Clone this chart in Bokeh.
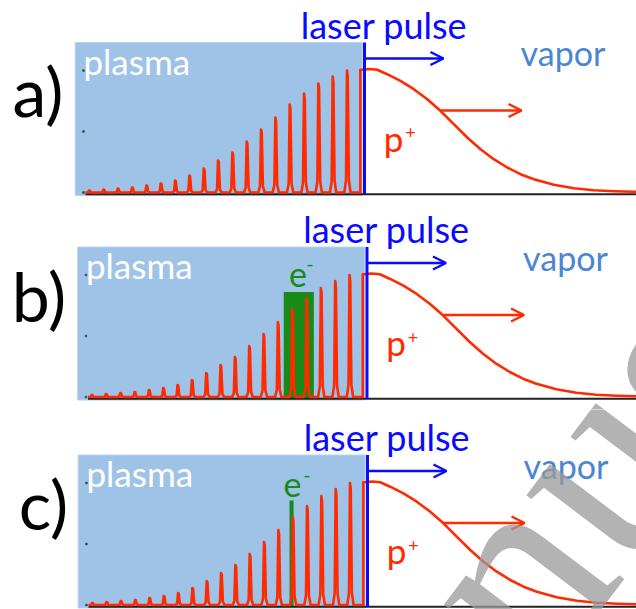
import numpy as np
from bokeh.plotting import figure
from bokeh.models import Range1d, Arrow, OpenHead, Label
from bokeh.layouts import column
from bokeh.embed import file_html
from bokeh.resources import INLINE
from bokeh.core.properties import value

# ---------------- data ----------------
panel_labels = ["a)", "b)", "c)"]
# ion-density spikes inside the plasma (position in spike units, amplitude a.u.)
peak_pos = [1, 2, 3, 4, 5, 6, 7, 8, 9, 10, 11, 12, 13, 14, 15, 16, 17, 18, 19]
peak_amp = [2, 3, 4, 5, 7, 9, 12, 17, 24, 32, 40, 51, 63, 75, 88, 99, 109, 116, 122]
# expanding proton front in the vapor
front_x = [19.98, 20.5, 21.08, 21.77, 22.70, 23.63, 24.57, 25.49, 26.42, 27.36, 28.29,
           29.21, 30.15, 31.08, 32.01, 33.40, 34.80, 36.19, 37.59, 38.98, 40.0]
front_amp = [122.7, 123.5, 122.7, 118.3, 111.7, 103.3, 93.3, 81.7, 68.3, 55.0, 43.3,
             33.3, 25.0, 18.3, 13.3, 7.7, 4.3, 2.3, 1.3, 0.7, 0.4]
edge_x = 19.9
plasma_left, plasma_right, plasma_bottom, plasma_top = 0.0, 20.03, -3, 150
laser_x = 20.19
laser_arrow = (20.19, 25.7, 134)     # x_start, x_end, amplitude
ion_arrow = (25.5, 31.15, 82)
axis_tick_amp = [0, 61, 122]
# electron bunch: panel b wide box, panel c thin line
bunch_b = (14.38, 16.48, 105)
bunch_c = (14.89, 104.5)
e_label_b = (15.38, 114.5, 16.21, 133)
e_label_c = (14.96, 112.5, 15.97, 130)

# ---------------- layout ----------------
S = 14.33                       # px per spike spacing
P1 = [89, 91.5, 92]             # page x of first spike per panel
BASE = [192, 396.5, 604.5]      # page y of baseline per panel
TOP = [0, 204, 409]
H = [204, 205, 200]
W = 636
label_x_px = [37.5, 38.5, 43]
TXT_SHIFT = 11                  # renderer baseline correction for 35px text
LBL_SHIFT = 27                  # same for the 68px panel letters

RED = "#ff2a00"
BLUE = "#0a0aff"
VAPOR = "#4a86d4"
GREEN = "#178a17"
PLASMA = "#9ec3e7"
FONT = "Lato"

def page_to_data(i, px, py):
    x0 = 1 + (0 - P1[i]) / S
    return x0 + px / S, BASE[i] - py

figs = []
for i in range(3):
    x0 = 1 + (0 - P1[i]) / S
    p = figure(width=W, height=H[i], output_backend="svg", toolbar_location=None,
               x_range=Range1d(x0, x0 + W / S),
               y_range=Range1d(BASE[i] - TOP[i] - H[i], BASE[i] - TOP[i]),
               x_axis_location=None, y_axis_location=None, min_border=0)
    p.grid.visible = False
    p.outline_line_color = None
    p.background_fill_color = "white"
    p.border_fill_color = "white"

    # plasma region
    p.quad(left=[plasma_left], right=[plasma_right], bottom=[plasma_bottom], top=[plasma_top],
           fill_color=PLASMA, line_color="#b8d3ee", line_width=1)
    p.scatter(x=[0.58] * 3, y=axis_tick_amp, marker="square", size=1.5, color="#444")

    # electron bunch
    if i == 1:
        p.quad(left=[bunch_b[0]], right=[bunch_b[1]], bottom=[-1], top=[bunch_b[2]],
               fill_color=GREEN, line_color=None)
    if i == 2:
        p.segment(x0=[bunch_c[0]], y0=[-1], x1=[bunch_c[0]], y1=[bunch_c[1]],
                  line_color=GREEN, line_width=4)

    # baseline
    p.segment(x0=[0.72], y0=[-1.8], x1=[45], y1=[-1.8], line_color="#222222", line_width=2)

    # ion density line
    xs, ys = [0.72], [0.0]
    for pp, hh in zip(peak_pos, peak_amp):
        xs += [pp - 0.22, pp - 0.1, pp - 0.03, pp + 0.02, pp + 0.1, pp + 0.22]
        ys += [0, 0.1 * hh, hh, 0.95 * hh, 0.1 * hh, 0]
    xs += [edge_x, edge_x] + front_x
    ys += [0, front_amp[0]] + front_amp
    p.line(xs, ys, line_color=RED, line_width=2.6, line_join="round")

    # laser pulse
    p.segment(x0=[laser_x], y0=[-1.5], x1=[laser_x], y1=[plasma_top],
              line_color=BLUE, line_width=3)
    p.add_layout(Arrow(end=OpenHead(size=13, line_color=BLUE, line_width=2.5),
                       x_start=laser_arrow[0], y_start=laser_arrow[2],
                       x_end=laser_arrow[1], y_end=laser_arrow[2],
                       line_color=BLUE, line_width=2.5))
    p.add_layout(Arrow(end=OpenHead(size=13, line_color=RED, line_width=2.5),
                       x_start=ion_arrow[0], y_start=ion_arrow[2],
                       x_end=ion_arrow[1], y_end=ion_arrow[2],
                       line_color=RED, line_width=2.5))

    # texts
    common = dict(text_font=value(FONT), text_align="center", text_baseline="alphabetic")
    p.text(x=[21.55], y=[157 + TXT_SHIFT], text=["laser pulse"], text_color=BLUE,
           text_font_size="36px", **common)
    p.text(x=[34.04], y=[129 + TXT_SHIFT], text=["vapor"], text_color=VAPOR,
           text_font_size="34px", **common)
    p.text(x=[4.3], y=[121 + TXT_SHIFT], text=["plasma"], text_color="white",
           text_font_size="35px", **common)
    p.text(x=[22.22], y=[44 + TXT_SHIFT], text=["p"], text_color=RED,
           text_font_size="35px", **common)
    p.text(x=[23.4], y=[60], text=["+"], text_color=RED, text_font_size="18px",
           text_font=value(FONT), text_align="center", text_baseline="middle")
    lx = 1 + (label_x_px[i] - P1[i]) / S
    p.text(x=[lx], y=[75 + LBL_SHIFT], text=[panel_labels[i]], text_color="black",
           text_font_size="68px", **common)
    if i in (1, 2):
        el = e_label_b if i == 1 else e_label_c
        p.text(x=[el[0]], y=[el[1] + TXT_SHIFT - 3], text=["e"], text_color=GREEN,
               text_font_size="34px", **common)
        p.text(x=[el[2]], y=[el[3]], text=["-"], text_color=GREEN, text_font_size="20px",
               text_font=value(FONT), text_align="center", text_baseline="middle")

    # watermark
    if i in (1, 2):
        wx, wy = page_to_data(i, 242, 928)
        p.add_layout(Label(x=wx, y=wy, text="Manuscript", angle=53, angle_units="deg",
                           text_font="Liberation Serif", text_font_size="280px",
                           text_color="#9a9a9a", text_alpha=0.75,
                           text_align="left", text_baseline="alphabetic"))
    figs.append(p)

layout = column(*figs, spacing=0)
open("out.html", "w").write(file_html(layout, INLINE))
